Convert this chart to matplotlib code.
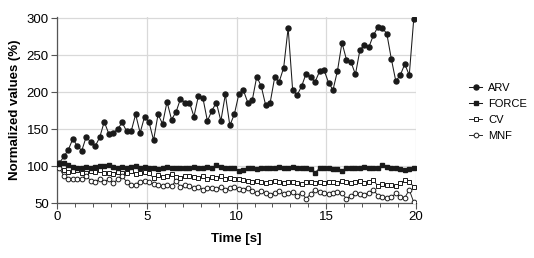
import numpy as np
import matplotlib
matplotlib.use("Agg")
import matplotlib.pyplot as plt
from matplotlib.ticker import MultipleLocator

plt.rcParams['font.family'] = ['Liberation Sans', 'DejaVu Sans']

time = np.arange(80) * 0.25 + 0.125

arv = [104, 113, 122, 137, 127, 121, 140, 132, 127, 139,
       160, 144, 145, 150, 159, 147, 147, 170, 145, 167,
       159, 135, 170, 157, 187, 163, 173, 191, 186, 186,
       167, 195, 192, 161, 175, 186, 161, 197, 155, 170,
       197, 203, 186, 189, 221, 208, 182, 186, 220, 214,
       233, 287, 203, 196, 208, 225, 220, 214, 228, 230,
       213, 203, 229, 267, 244, 241, 224, 257, 264, 261,
       277, 288, 287, 279, 245, 215, 223, 238, 223, 299]

force = [103, 104, 101, 99, 98, 97, 99, 98, 99, 100,
         100, 102, 99, 98, 99, 98, 99, 100, 98, 99,
         98, 97, 96, 97, 99, 98, 98, 97, 98, 97,
         99, 98, 97, 99, 98, 101, 99, 97, 98, 97,
         94, 95, 97, 97, 96, 97, 98, 97, 98, 99,
         98, 97, 99, 98, 97, 97, 96, 91, 97, 98,
         98, 96, 96, 94, 97, 97, 98, 98, 99, 98,
         97, 98, 101, 99, 98, 97, 96, 95, 96, 98]

cv = [100, 95, 92, 93, 95, 90, 91, 94, 92, 95,
      91, 90, 89, 92, 90, 91, 93, 89, 90, 92,
      90, 84, 88, 85, 86, 89, 85, 84, 87, 86,
      85, 84, 86, 83, 85, 84, 86, 83, 84, 82,
      82, 81, 80, 79, 80, 78, 77, 79, 80, 78,
      77, 79, 78, 77, 76, 78, 79, 77, 78, 77,
      79, 78, 77, 80, 78, 77, 79, 80, 77, 78,
      81, 73, 76, 74, 75, 73, 77, 81, 79, 72]

mnf = [98, 86, 83, 82, 82, 83, 87, 80, 79, 82,
       79, 82, 77, 82, 86, 79, 74, 75, 79, 80,
       78, 76, 74, 73, 75, 73, 80, 72, 75, 73,
       70, 72, 68, 70, 71, 69, 72, 68, 70, 72,
       69, 68, 71, 66, 64, 66, 63, 61, 64, 66,
       62, 63, 65, 60, 64, 56, 62, 68, 65, 64,
       62, 64, 65, 63, 56, 60, 63, 62, 61, 64,
       68, 60, 58, 57, 58, 63, 58, 57, 68, 51]

labels = ['ARV', 'FORCE', 'CV', 'MNF']

fig = plt.figure(figsize=(5.34, 2.58), dpi=100)
ax = fig.add_axes([0.107, 0.213, 0.672, 0.722])

lc = '#1a1a1a'
ax.plot(time, arv, color=lc, lw=0.75, marker='o', ms=3.6, mfc=lc, mec=lc, label=labels[0], zorder=5)
ax.plot(time, force, color=lc, lw=0.75, marker='s', ms=3.4, mfc=lc, mec=lc, label=labels[1], zorder=4)
ax.plot(time, cv, color=lc, lw=0.65, marker='s', ms=3.4, mfc='white', mec=lc, mew=0.7, label=labels[2], zorder=3)
ax.plot(time, mnf, color=lc, lw=0.65, marker='o', ms=3.4, mfc='white', mec=lc, mew=0.7, label=labels[3], zorder=3)

ax.set_xlim(0, 20)
ax.set_ylim(50, 302)
ax.xaxis.set_major_locator(MultipleLocator(5))
ax.xaxis.set_minor_locator(MultipleLocator(1))
ax.yaxis.set_major_locator(MultipleLocator(50))
ax.grid(True, which='major', color='#d9d9d9', lw=0.9)
ax.set_axisbelow(True)
for s in ['top', 'right']:
    ax.spines[s].set_visible(False)
for s in ['left', 'bottom']:
    ax.spines[s].set_color('#555555')
    ax.spines[s].set_linewidth(0.9)
ax.tick_params(axis='both', which='major', length=4, width=0.8, color='#555555', labelsize=9.5, pad=2)
ax.tick_params(axis='x', which='minor', length=3, width=0.7, color='#555555')

ax.set_xlabel('Time [s]', fontsize=9.5, fontweight='bold', labelpad=7)
ax.set_ylabel('Normalized values (%)', fontsize=9.5, fontweight='bold', labelpad=4)

ax.legend(loc='center left', bbox_to_anchor=(1.12, 0.49), frameon=False, fontsize=8,
          handlelength=1.2, handletextpad=0.5, labelspacing=0.55)

fig.savefig('out.png', dpi=100)
